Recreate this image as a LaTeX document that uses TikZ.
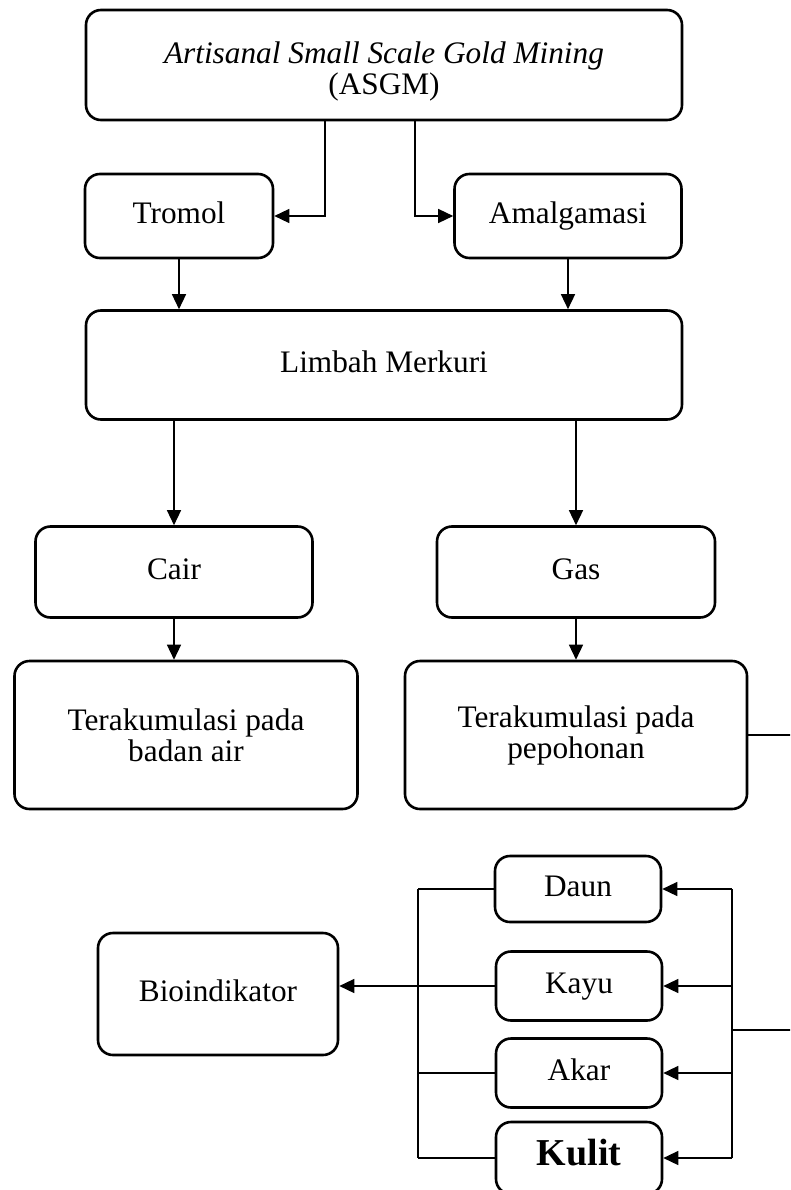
\documentclass[tikz,border=0pt]{standalone}
\usepackage{fontspec}
\setmainfont{Liberation Serif}
\usetikzlibrary{arrows.meta}

\begin{document}
\begin{tikzpicture}[x=1pt, y=-1pt,
    every node/.style={font=\fontsize{31.3}{31}\selectfont},
    box/.style={draw, line width=2.6pt, rounded corners=15pt, inner sep=0pt, align=center},
    oneline/.style={text height=22pt, text depth=7pt},
    line/.style={line width=1.4pt},
    arr/.style={line width=1.4pt, -{Triangle[length=15pt, width=14pt]}}]
    \clip (0,0) rectangle (790,1190);

    \node[box, minimum width=596pt, minimum height=110pt] (asgm) at (384,65)
        {\raisebox{-8pt}[\height][\depth]{\begin{tabular}{@{}c@{}}\textit{Artisanal Small Scale Gold Mining}\\(ASGM)\end{tabular}}};
    \node[box, oneline, minimum width=188pt, minimum height=84pt] (tromol) at (179,216) {Tromol};
    \node[box, oneline, minimum width=227pt, minimum height=84pt] (amalg) at (568,216) {Amalgamasi};
    \node[box, oneline, minimum width=596pt, minimum height=109pt] (limbah) at (384,365) {Limbah Merkuri};

    \node[box, oneline, minimum width=277pt, minimum height=91pt] (cair) at (174,572) {Cair};
    \node[box, oneline, minimum width=278pt, minimum height=91pt] (gas) at (576,572) {Gas};
    \node[box, minimum width=343pt, minimum height=148pt] (air) at (186,735) {Terakumulasi pada\\badan air};
    \node[box, minimum width=342pt, minimum height=148pt] (pohon) at (576,735) {Terakumulasi pada\\pepohonan};

    \node[box, oneline, minimum width=166pt, minimum height=66pt] (daun) at (578,889) {Daun};
    \node[box, oneline, minimum width=166pt, minimum height=69pt] (kayu) at (579,986) {Kayu};
    \node[box, oneline, minimum width=166pt, minimum height=69pt] (akar) at (579,1073) {Akar};
    \node[box, oneline, minimum width=166pt, minimum height=72pt, font=\fontsize{38}{40}\selectfont\bfseries] (kulit) at (579,1158) {Kulit};
    \node[box, oneline, minimum width=240pt, minimum height=122pt] (bio) at (218,994) {Bioindikator};

    \coordinate (splitL) at (325,0);
    \coordinate (splitR) at (415,0);
    \coordinate (edge) at (800,0);
    \coordinate (busR) at (732,1030);
    \coordinate (busL) at (418,0);

    \draw[arr] (asgm.south -| splitL) |- (tromol.east);
    \draw[arr] (asgm.south -| splitR) |- (amalg.west);
    \draw[arr] (tromol.south) -- (tromol.south |- limbah.north);
    \draw[arr] (amalg.south) -- (amalg.south |- limbah.north);
    \draw[arr] (cair.north |- limbah.south) -- (cair.north);
    \draw[arr] (gas.north |- limbah.south) -- (gas.north);
    \draw[arr] (cair.south) -- (cair.south |- air.north);
    \draw[arr] (gas.south) -- (gas.south |- pohon.north);

    % tree parts fed from the right, gathered on the left
    \draw[line] (pohon.east) -| (edge |- busR) -- (busR);
    \draw[line] (busR |- daun.east) -- (busR |- kulit.east);
    \draw[line] (busL |- daun.west) -- (busL |- kulit.west);
    \foreach \part in {daun, kayu, akar, kulit} {
        \draw[arr] (busR |- \part.east) -- (\part.east);
        \draw[line] (\part.west) -- (busL |- \part.west);
    }
    \draw[arr] (busL |- kayu.west) -- (kayu.west -| bio.east);
\end{tikzpicture}
\end{document}
